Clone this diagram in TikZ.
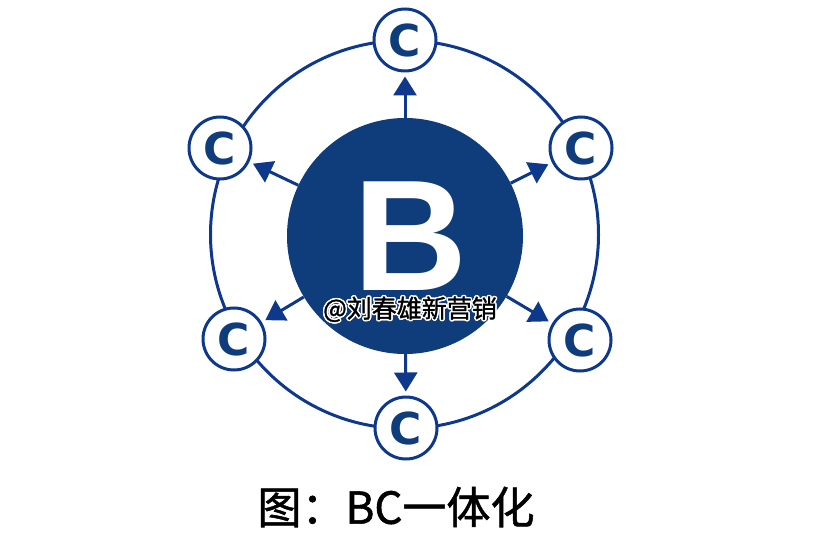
\documentclass[tikz,border=0pt]{standalone}
\usepackage{fontspec}
\setmainfont{Liberation Sans}
\newfontfamily\cjk{Noto Sans CJK SC}
\newfontfamily\cjkb[FakeBold=1.2]{Noto Sans CJK SC}
\newfontfamily\dejavu{DejaVu Sans}
\usepackage{contour}
\contourlength{1.5pt}
\contournumber{12}
\usetikzlibrary{arrows.meta}
\definecolor{navy}{RGB}{15,60,122}
\definecolor{lineblue}{RGB}{14,56,140}
\tikzset{
  cnode/.style={circle, draw=lineblue, line width=3pt, fill=white, minimum size=62pt, inner sep=0pt,
    text=navy, font=\dejavu\bfseries\fontsize{44}{44}\selectfont},
  bnode/.style={circle, fill=navy, minimum size=236pt, inner sep=0pt},
  ring/.style={draw=lineblue, line width=3pt},
  arr/.style={draw=lineblue, line width=3pt, -{Triangle[length=19pt,width=23pt]}, shorten >=4pt},
}
\begin{document}
\begin{tikzpicture}[x=1pt,y=-1pt]
\useasboundingbox (0,0) rectangle (818,534);
\coordinate (O) at (404.5,234.5);
\draw[ring] (O) circle[radius=194];
\node[bnode] (B) at (405,236) {};
\node[text=white, font=\bfseries\fontsize{158}{158}\selectfont, inner sep=0pt] (Bt) at (411,236.5) {B};
\node[cnode] (c1) at (405,40) {C};
\node[cnode] (c2) at (581,148) {C};
\node[cnode] (c3) at (580,340) {C};
\node[cnode] (c4) at (406,428) {C};
\node[cnode] (c5) at (234,339) {C};
\node[cnode] (c6) at (220,148) {C};
\foreach \c in {c1,c2,c3,c4,c5,c6} \draw[arr] (B) -- (\c);
\node[font=\cjkb\fontsize{25}{25}\selectfont, text=black, inner sep=0pt] (wm) at (410,310) {\contour{white}{@刘春雄新营销}};
\node[font=\cjkb\fontsize{44}{44}\selectfont, text=black, inner sep=0pt] (cap) at (396,507) {图：BC一体化};
\end{tikzpicture}
\end{document}
